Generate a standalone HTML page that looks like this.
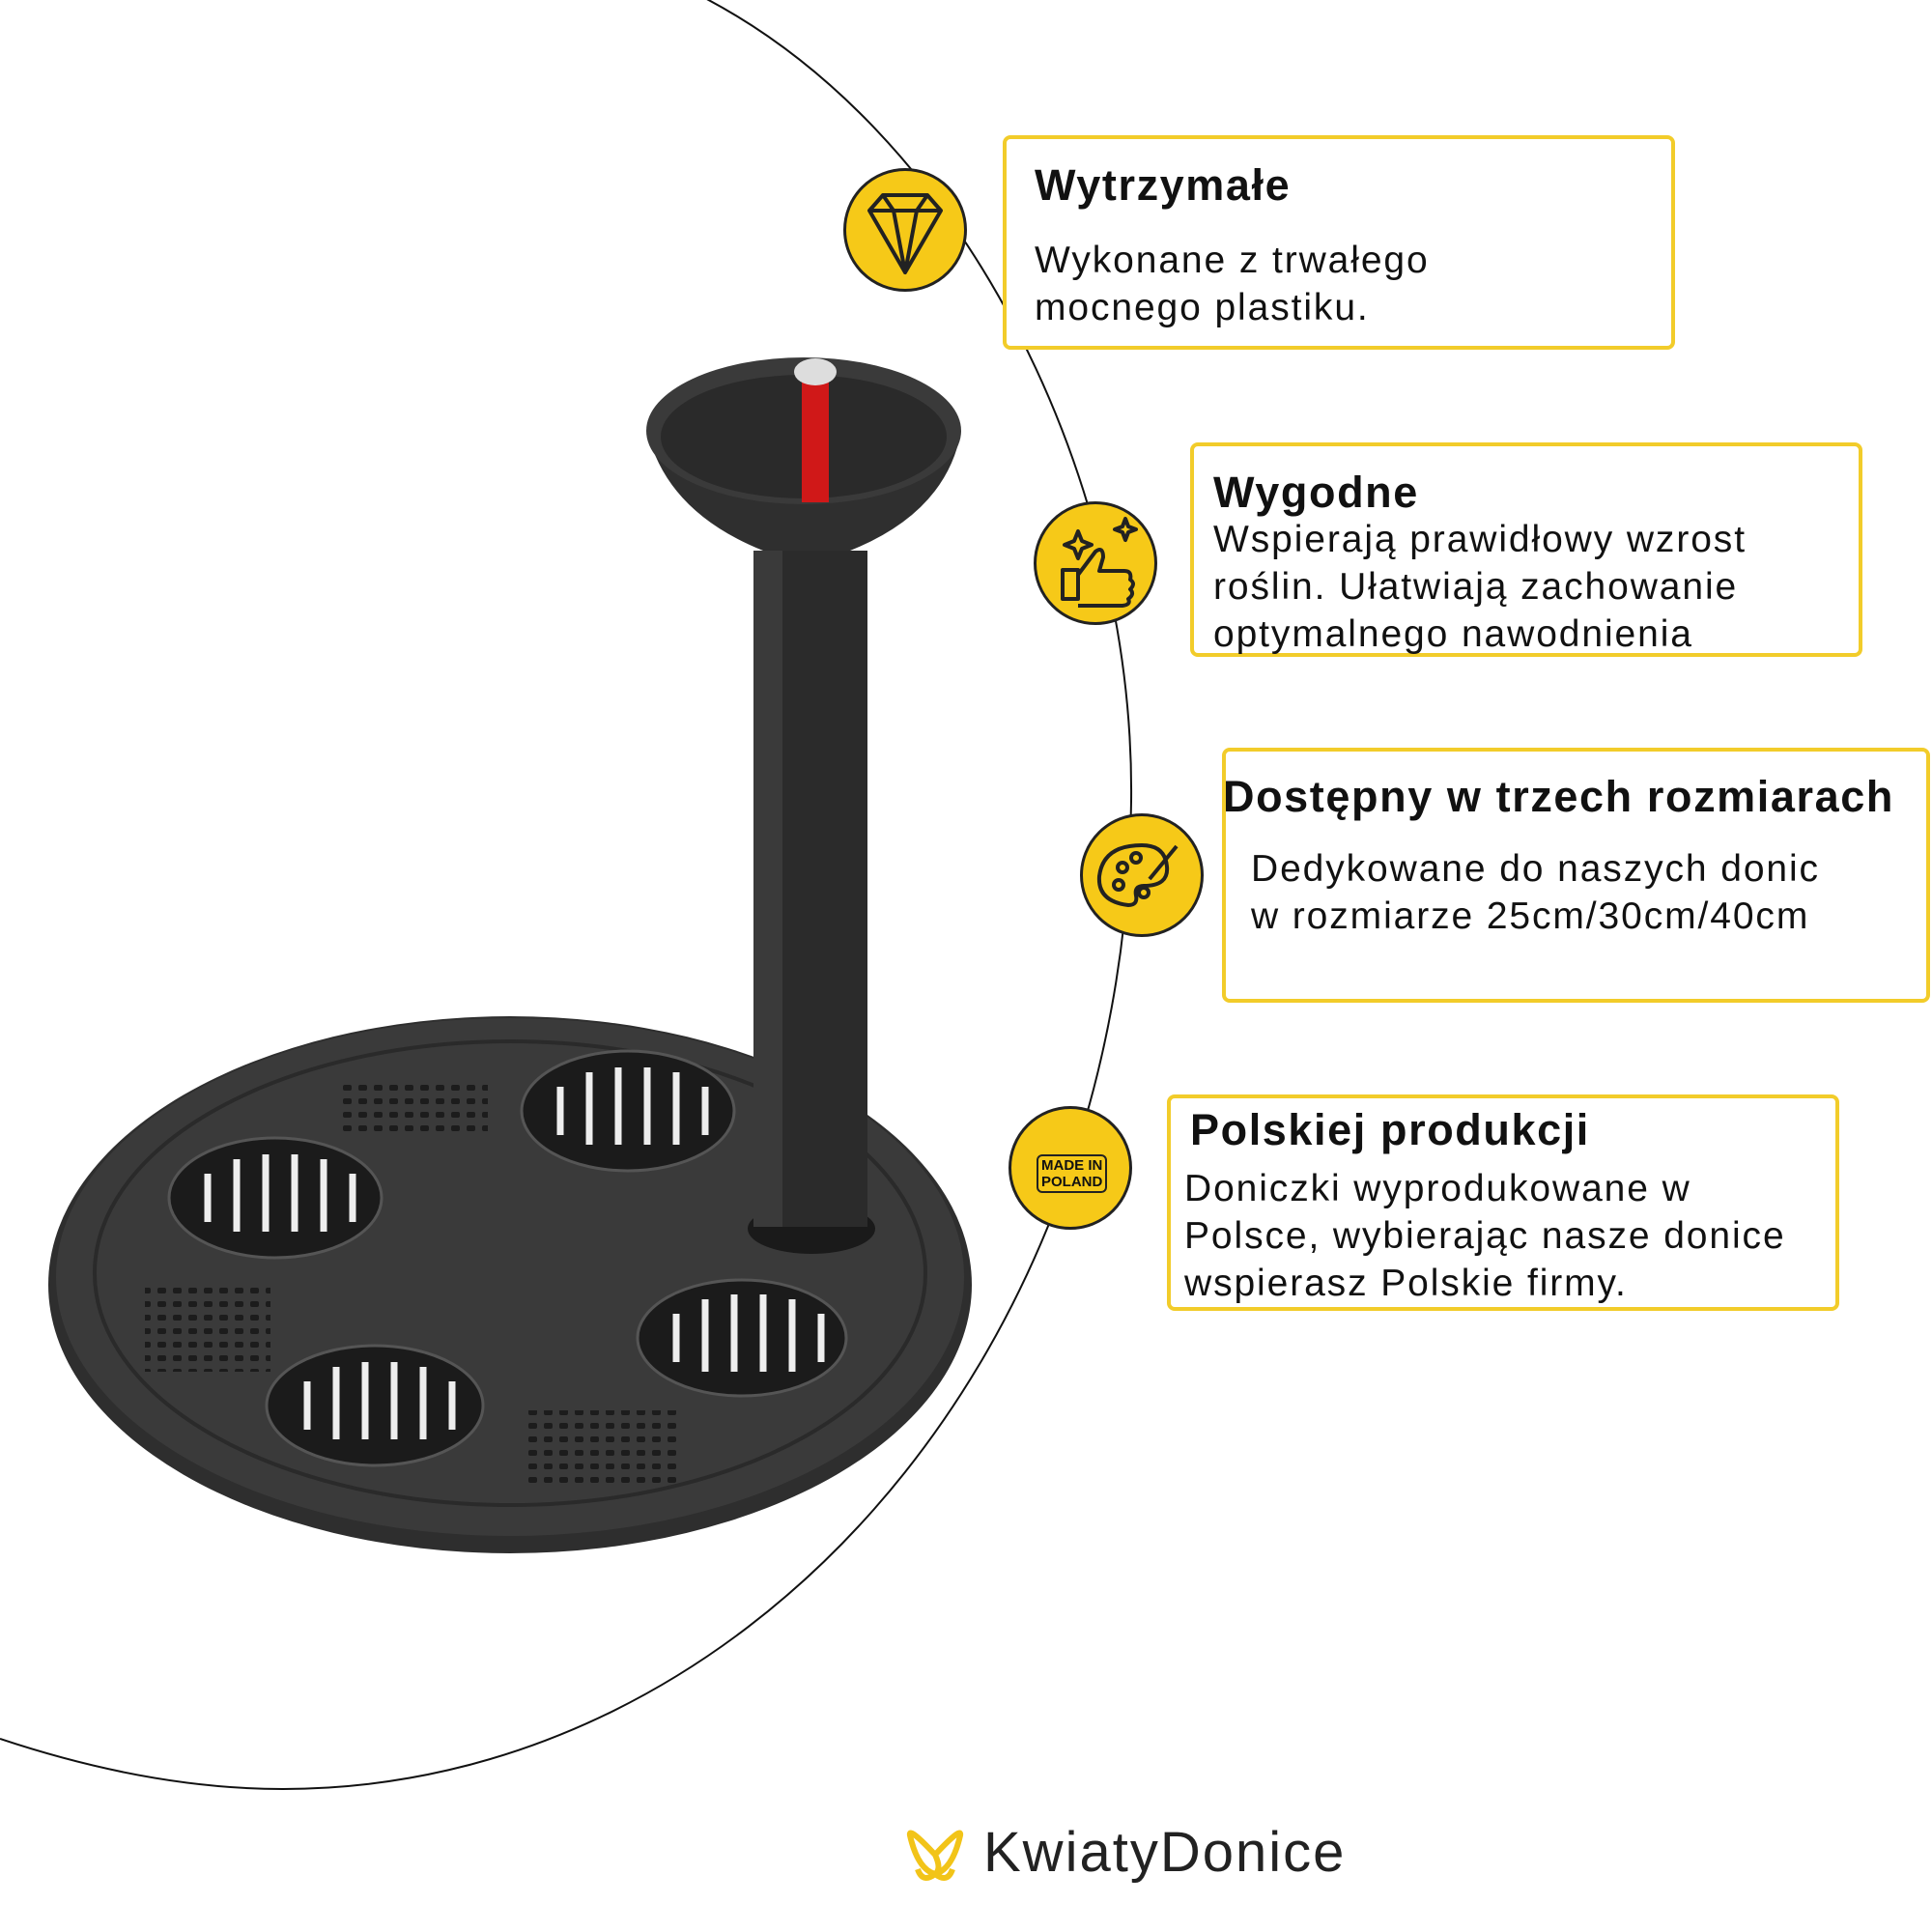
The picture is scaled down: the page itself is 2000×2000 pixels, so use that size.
<!DOCTYPE html>
<html><head><meta charset="utf-8"><style>
html,body{margin:0;padding:0;background:#fff}
body{width:2000px;height:2000px;position:relative;overflow:hidden;font-family:"Liberation Sans",sans-serif;color:#111}
.box{position:absolute;border:4px solid #f2cc2a;border-radius:8px;background:#fff;box-sizing:border-box}
.t{position:absolute;font-weight:bold;font-size:45px;letter-spacing:1.6px;white-space:nowrap}
.b{position:absolute;font-size:39px;letter-spacing:1.9px;line-height:49px;white-space:nowrap}
.ic{position:absolute;width:128px;height:128px;border-radius:50%;background:#f6c918;border:3px solid #222;box-sizing:border-box}
</style></head><body>
<svg width="2000" height="2000" style="position:absolute;left:0;top:0">
<defs>
<pattern id="dots" width="16" height="14" patternUnits="userSpaceOnUse"><rect width="16" height="14" fill="#3a3a3a"/><rect x="3" y="3" width="9" height="6" rx="2" fill="#1c1c1c"/></pattern>
</defs>
<path d="M714,-10 C1000,130 1175,500 1171,830 C1165,1420 760,1852 293,1852 C190,1852 90,1830 0,1800" fill="none" stroke="#111" stroke-width="2"/>
<!-- base -->
<ellipse cx="528" cy="1330" rx="478" ry="278" fill="#2e2e2e"/>
<ellipse cx="528" cy="1322" rx="470" ry="268" fill="#3a3a3a"/>
<ellipse cx="528" cy="1318" rx="430" ry="240" fill="none" stroke="#2a2a2a" stroke-width="4"/>
<g fill="#1b1b1b" stroke="#555" stroke-width="3">
<ellipse cx="285" cy="1240" rx="110" ry="62"/>
<ellipse cx="650" cy="1150" rx="110" ry="62"/>
<ellipse cx="388" cy="1455" rx="112" ry="62"/>
<ellipse cx="768" cy="1385" rx="108" ry="60"/>
</g>
<g stroke="#eee" stroke-width="7">
<path d="M215 1215v50M245 1200v75M275 1195v80M305 1195v80M335 1200v75M365 1215v50"/>
<path d="M580 1125v50M610 1110v75M640 1105v80M670 1105v80M700 1110v75M730 1125v50"/>
<path d="M318 1430v50M348 1415v75M378 1410v80M408 1410v80M438 1415v75M468 1430v50"/>
<path d="M700 1360v50M730 1345v75M760 1340v80M790 1340v80M820 1345v75M850 1360v50"/>
</g>
<g fill="url(#dots)"><rect x="355" y="1115" width="150" height="60"/><rect x="150" y="1330" width="130" height="90"/><rect x="540" y="1460" width="160" height="75"/></g>
<!-- tube -->
<ellipse cx="840" cy="1272" rx="66" ry="26" fill="#1a1a1a"/>
<rect x="780" y="570" width="118" height="700" fill="#2b2b2b"/>
<rect x="780" y="570" width="30" height="700" fill="#3a3a3a"/>
<!-- funnel -->
<path d="M670 446 Q690 530 790 570 L880 570 Q980 530 995 446 Z" fill="#2f2f2f"/>
<ellipse cx="832" cy="446" rx="163" ry="76" fill="#3a3a3a"/>
<ellipse cx="832" cy="452" rx="148" ry="64" fill="#2a2a2a"/>
<rect x="830" y="395" width="28" height="125" fill="#d01818"/>
<ellipse cx="844" cy="385" rx="22" ry="14" fill="#ddd"/>
<!-- logo butterfly -->
<g fill="none" stroke="#f2c418" stroke-width="6">
<path d="M968 1920 Q940 1890 942 1900 Q950 1935 968 1940 Q975 1935 968 1920Z"/>
<path d="M968 1920 Q996 1890 994 1900 Q986 1935 968 1940"/>
<path d="M968 1940 Q955 1950 950 1935 M968 1940 Q981 1950 986 1935"/>
</g>
</svg>
<div class="ic" style="left:873px;top:174px"></div>
<div class="ic" style="left:1070px;top:519px"></div>
<div class="ic" style="left:1118px;top:842px"></div>
<div class="ic" style="left:1044px;top:1145px"></div>
<svg width="2000" height="2000" style="position:absolute;left:0;top:0" fill="none" stroke="#222" stroke-width="4" stroke-linejoin="round">
<path d="M900 218 L914 202 H960 L974 218 L937 282 Z M900 218 H974 M914 202 L925 218 L937 282 L949 218 L960 202"/>
<path d="M1100 620 h16 v-30 h-16z M1116 595 l18 -24 q8 -6 8 6 l-4 14 h26 q8 0 6 9 q6 4 0 10 q5 5 -2 10 q3 6 -6 7 h-46"/>
<path d="M1112 560 l4 -10 l4 10 l10 4 l-10 4 l-4 10 l-4 -10 l-10 -4z M1162 545 l3 -8 l3 8 l8 3 l-8 3 l-3 8 l-3 -8 l-8 -3z"/>
<path d="M1182 875 q-40 0 -44 32 q-2 26 30 30 q10 0 8 -10 q-2 -10 8 -10 q26 0 24 -20 q-2 -22 -26 -22z"/>
<circle cx="1162" cy="898" r="5"/><circle cx="1158" cy="916" r="5"/><circle cx="1184" cy="924" r="5"/><circle cx="1176" cy="888" r="5"/>
<path d="M1190 910 l28 -34"/>
</svg>
<div style="position:absolute;left:1073px;top:1195px;font-size:15px;font-weight:bold;line-height:17px;text-align:center;border:2px solid #222;border-radius:6px;padding:1px 3px">MADE IN<br>POLAND</div>

<div class="box" style="left:1038px;top:140px;width:696px;height:222px"></div>
<div class="t" style="left:1071px;top:166px">Wytrzymałe</div>
<div class="b" style="left:1071px;top:245px">Wykonane z trwałego<br>mocnego plastiku.</div>

<div class="box" style="left:1232px;top:458px;width:696px;height:222px"></div>
<div class="t" style="left:1256px;top:484px">Wygodne</div>
<div class="b" style="left:1256px;top:534px">Wspierają prawidłowy wzrost<br>roślin. Ułatwiają zachowanie<br>optymalnego nawodnienia</div>

<div class="box" style="left:1265px;top:774px;width:733px;height:264px"></div>
<div class="t" style="left:1266px;top:799px">Dostępny w trzech rozmiarach</div>
<div class="b" style="left:1295px;top:875px">Dedykowane do naszych donic<br>w rozmiarze 25cm/30cm/40cm</div>

<div class="box" style="left:1208px;top:1133px;width:696px;height:224px"></div>
<div class="t" style="left:1232px;top:1144px">Polskiej produkcji</div>
<div class="b" style="left:1226px;top:1206px">Doniczki wyprodukowane w<br>Polsce, wybierając nasze donice<br>wspierasz Polskie firmy.</div>

<div style="position:absolute;left:1018px;top:1884px;font-size:58px;letter-spacing:2px;color:#222">KwiatyDonice</div>
</body></html>
